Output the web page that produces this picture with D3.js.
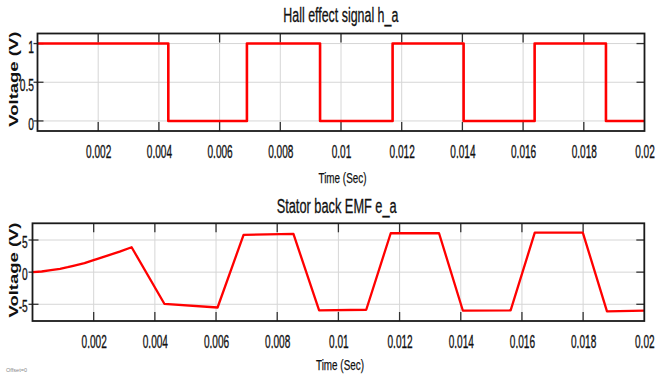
<!DOCTYPE html>
<html>
<head>
<meta charset="utf-8">
<script src="https://cdn.jsdelivr.net/npm/d3@7"></script>
<style>
  html, body { margin: 0; padding: 0; background: #fff; }
  svg { display: block; font-family: "Liberation Sans", Arial, sans-serif; }
</style>
</head>
<body>
<div id="chart"></div>
<script>
// Hall sensor signal h_a (step wave, value holds until next time)
const hallTimes = [0, 0.00431, 0.0069, 0.00931, 0.0117, 0.01404, 0.01638, 0.01873, 0.02];
const hallValues = [1, 0, 1, 0, 1, 0, 1, 0, 0];

// stator back EMF e_a
const emfTimes = [0, 0.0003, 0.0006, 0.0009, 0.00115, 0.0013, 0.0017, 0.00202, 0.0021, 0.0025, 0.00285, 0.00324,
    0.00431, 0.00605, 0.0069, 0.00853, 0.00937, 0.01091, 0.01171, 0.01329, 0.01407, 0.01563, 0.01642,
    0.01799, 0.01878, 0.02];
const emfValues = [0, 0.1, 0.3, 0.52, 0.77, 0.95, 1.4, 1.9, 2.03, 2.65, 3.2, 3.88,
    -4.92, -5.5, 5.8, 5.95, -5.96, -5.85, 6.05, 6.05, -6.0, -5.96, 6.15,
    6.15, -6.1, -6.0];

// axis ticks
const xTicks = [0.002, 0.004, 0.006, 0.008, 0.01, 0.012, 0.014, 0.016, 0.018, 0.02];
const xTickLabels = ["0.002", "0.004", "0.006", "0.008", "0.01", "0.012", "0.014", "0.016", "0.018", "0.02"];
const hallYTicks = [0, 0.5, 1];
const hallYTickLabels = ["0", "0.5", "1"];
const emfYTicks = [-5, 0, 5];
const emfYTickLabels = ["-5", "0", "5"];

const W = 655, H = 378;

const svg = d3.select("#chart")
    .append("svg")
    .attr("width", W)
    .attr("height", H);

function drawPanel(cfg) {
    const x = d3.scaleLinear().domain([0, 0.02]).range([cfg.left, cfg.right]);
    const y = d3.scaleLinear().domain(cfg.yDomain).range([cfg.bottom, cfg.top]);
    const g = svg.append("g");

    // grid
    g.append("g")
        .selectAll("line")
        .data(xTicks.slice(0, -1))
        .join("line")
        .attr("x1", d => x(d)).attr("x2", d => x(d))
        .attr("y1", cfg.top).attr("y2", cfg.bottom)
        .attr("stroke", "#d6d6d6").attr("stroke-width", 1);
    g.append("g")
        .selectAll("line")
        .data(cfg.yTicks)
        .join("line")
        .attr("x1", cfg.left).attr("x2", cfg.right)
        .attr("y1", d => y(d)).attr("y2", d => y(d))
        .attr("stroke", "#d6d6d6").attr("stroke-width", 1);

    // tick marks (inside frame)
    const tk = g.append("g").attr("stroke", "#333").attr("stroke-width", 1.3);
    xTicks.slice(0, -1).forEach(d => {
        tk.append("line").attr("x1", x(d)).attr("x2", x(d)).attr("y1", cfg.top).attr("y2", cfg.top + 9);
        tk.append("line").attr("x1", x(d)).attr("x2", x(d)).attr("y1", cfg.bottom).attr("y2", cfg.bottom - 9);
    });
    cfg.yTicks.forEach(d => {
        tk.append("line").attr("x1", cfg.left - 4).attr("x2", cfg.left + 6).attr("y1", y(d)).attr("y2", y(d));
        tk.append("line").attr("x1", cfg.right).attr("x2", cfg.right - 8).attr("y1", y(d)).attr("y2", y(d));
    });

    // x tick labels via axis
    const xa = g.append("g")
        .attr("transform", `translate(0,${cfg.bottom})`)
        .call(d3.axisBottom(x).tickValues(xTicks).tickFormat((d, i) => xTickLabels[i]).tickSize(0));
    xa.select(".domain").remove();
    xa.selectAll("text")
        .attr("y", 0).attr("dy", null)
        .attr("transform", "translate(0,27.3) scale(0.56,1)")
        .attr("font-size", 18)
        .attr("font-family", "Liberation Sans, Arial, sans-serif")
        .attr("fill", "#111")
        .attr("stroke", "#111").attr("stroke-width", 0.35);

    // y tick labels via axis
    const ya = g.append("g")
        .attr("transform", `translate(${cfg.left},0)`)
        .call(d3.axisLeft(y).tickValues(cfg.yTicks).tickFormat((d, i) => cfg.yTickLabels[i]).tickSize(0));
    ya.select(".domain").remove();
    ya.selectAll("text")
        .attr("x", 0).attr("dy", null)
        .attr("transform", `translate(${-cfg.yLabelGap},${cfg.yLabelDrop}) scale(0.62,1)`)
        .attr("font-size", 16.5)
        .attr("font-family", "Liberation Sans, Arial, sans-serif")
        .attr("fill", "#111")
        .attr("stroke", "#111").attr("stroke-width", 0.35);

    // signal
    const line = d3.line()
        .x(d => x(d[0]))
        .y(d => y(d[1]))
        .curve(cfg.curve);
    g.append("path")
        .datum(cfg.times.map((t, i) => [t, cfg.values[i]]))
        .attr("fill", "none")
        .attr("stroke", "#ff0000")
        .attr("stroke-width", cfg.lineWidth)
        .attr("stroke-linejoin", "round")
        .attr("d", line);

    // frame
    g.append("rect")
        .attr("x", cfg.left).attr("y", cfg.top)
        .attr("width", cfg.right - cfg.left)
        .attr("height", cfg.bottom - cfg.top)
        .attr("fill", "none")
        .attr("stroke", "#1a1a1a")
        .attr("stroke-width", 1.8);

    // title
    g.append("text")
        .attr("x", cfg.titleX).attr("y", cfg.titleY)
        .attr("text-anchor", "middle")
        .attr("font-size", 19.5)
        .attr("textLength", cfg.titleLen)
        .attr("lengthAdjust", "spacingAndGlyphs")
        .attr("fill", "#111")
        .attr("stroke", "#111").attr("stroke-width", 0.3)
        .text(cfg.title);

    // x axis label
    g.append("text")
        .attr("x", cfg.xLabelX).attr("y", cfg.xLabelY)
        .attr("text-anchor", "middle")
        .attr("font-size", 15)
        .attr("textLength", 48)
        .attr("lengthAdjust", "spacingAndGlyphs")
        .attr("fill", "#111")
        .attr("stroke", "#111").attr("stroke-width", 0.25)
        .text("Time (Sec)");

    // y axis label
    g.append("text")
        .attr("transform", `translate(18.3,${cfg.yLabelCenter}) rotate(-90)`)
        .attr("text-anchor", "middle")
        .attr("font-size", 12)
        .attr("font-weight", "bold")
        .attr("textLength", 95)
        .attr("lengthAdjust", "spacingAndGlyphs")
        .attr("fill", "#111")
        .text("Voltage (V)");
}

drawPanel({
    left: 37.5, right: 644.5, top: 33.5, bottom: 131,
    yDomain: [-0.13, 1.13],
    yTicks: hallYTicks, yTickLabels: hallYTickLabels,
    yLabelGap: 3.5, yLabelDrop: 8.5,
    times: hallTimes, values: hallValues, curve: d3.curveStepAfter, lineWidth: 2.6,
    title: "Hall effect signal h_a", titleX: 340.8, titleY: 21.7, titleLen: 115,
    xLabelX: 342.5, xLabelY: 183.3, yLabelCenter: 79.2
});

drawPanel({
    left: 32.5, right: 644.3, top: 223.3, bottom: 321,
    yDomain: [-7.6, 7.6],
    yTicks: emfYTicks, yTickLabels: emfYTickLabels,
    yLabelGap: 4.7, yLabelDrop: 7,
    times: emfTimes, values: emfValues, curve: d3.curveLinear, lineWidth: 2.3,
    title: "Stator back EMF e_a", titleX: 336.7, titleY: 213.3, titleLen: 120,
    xLabelX: 340, xLabelY: 370, yLabelCenter: 270
});

// small scope footer
svg.append("text")
    .attr("x", 6).attr("y", 371.5)
    .attr("font-size", 5.5)
    .attr("textLength", 21)
    .attr("lengthAdjust", "spacingAndGlyphs")
    .attr("fill", "#888")
    .text("Offset=0");
</script>
</body>
</html>
